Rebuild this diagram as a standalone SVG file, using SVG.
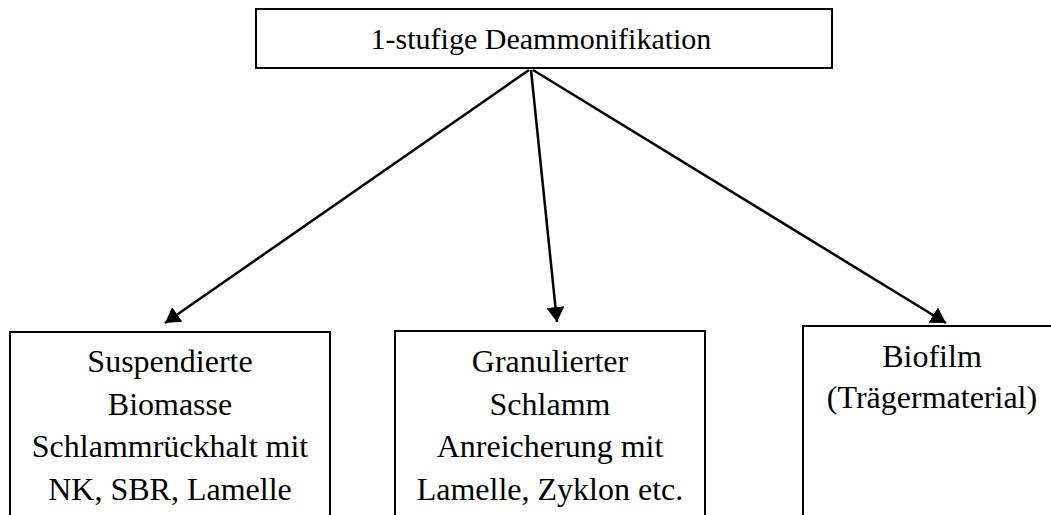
<svg xmlns="http://www.w3.org/2000/svg" width="1051" height="515" viewBox="0 0 1051 515">
  <style>
    .box { fill: #ffffff; stroke: #000000; stroke-width: 2; }
    .lbl { font-family: "Liberation Serif", "Times New Roman", serif; fill: #000000; text-anchor: middle; }
    .top { font-size: 30px; }
    .sub { font-size: 32px; }
    .edge { stroke: #000000; stroke-width: 2.5; fill: none; marker-end: url(#arrow); }
  </style>
  <defs>
    <marker id="arrow" viewBox="0 0 15 18" refX="15" refY="9" markerUnits="userSpaceOnUse" markerWidth="15" markerHeight="18" orient="auto">
      <path d="M0,0 L15,9 L0,18 z" fill="#000000"/>
    </marker>
  </defs>
  <rect width="1051" height="515" fill="#ffffff"/>

  <g id="connectors">
    <line class="edge" x1="529" y1="70" x2="165" y2="323"/>
    <line class="edge" x1="531" y1="70" x2="557" y2="322"/>
    <line class="edge" x1="533" y1="70" x2="946" y2="323"/>
  </g>

  <g id="node-root">
    <rect class="box" x="256" y="9" width="576" height="59"/>
    <text class="lbl top" x="541" y="49">1-stufige Deammonifikation</text>
  </g>

  <g id="node-suspended">
    <rect class="box" x="10" y="332" width="320" height="200"/>
    <text class="lbl sub" x="170" y="372">Suspendierte</text>
    <text class="lbl sub" x="170" y="415">Biomasse</text>
    <text class="lbl sub" x="170" y="457">Schlammrückhalt mit</text>
    <text class="lbl sub" x="170" y="500">NK, SBR, Lamelle</text>
  </g>

  <g id="node-granular">
    <rect class="box" x="395" y="331" width="310" height="200"/>
    <text class="lbl sub" x="550" y="372">Granulierter</text>
    <text class="lbl sub" x="550" y="415">Schlamm</text>
    <text class="lbl sub" x="550" y="457">Anreicherung mit</text>
    <text class="lbl sub" x="550" y="500">Lamelle, Zyklon etc.</text>
  </g>

  <g id="node-biofilm">
    <rect class="box" x="803" y="326" width="260" height="210"/>
    <text class="lbl sub" x="932" y="367">Biofilm</text>
    <text class="lbl sub" x="932" y="408">(Trägermaterial)</text>
  </g>
</svg>
